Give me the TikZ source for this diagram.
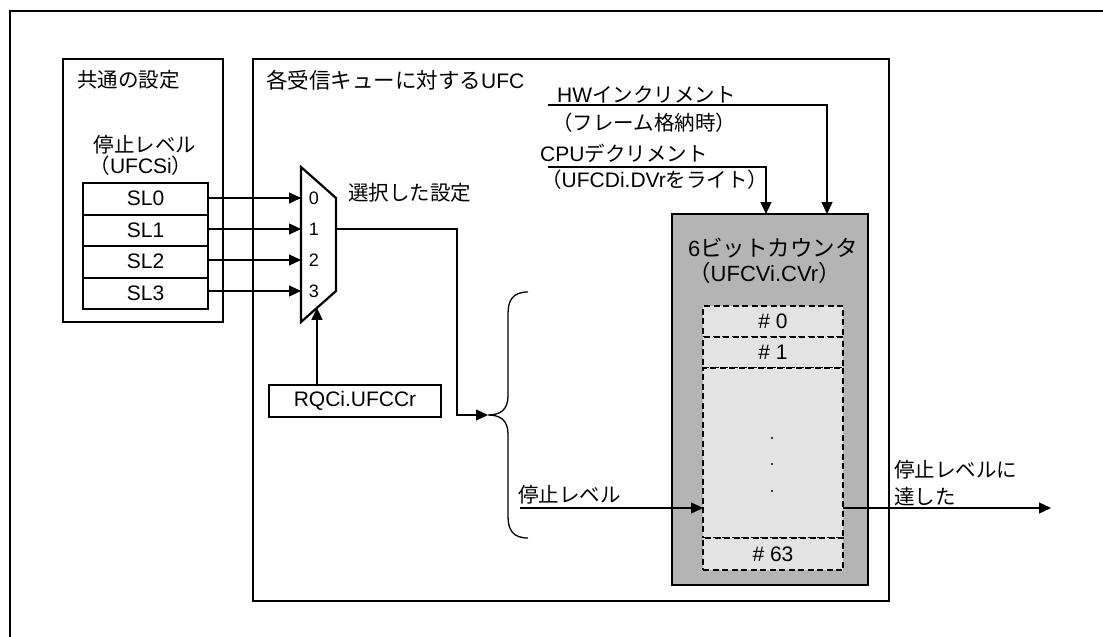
\documentclass[tikz,border=0pt]{standalone}
\usepackage{fontspec}
\setmainfont{Liberation Sans}
\newfontfamily\jpfont{Noto Sans CJK JP}
\newcommand{\jpt}[1]{{\jpfont\fontsize{20.5}{25}\selectfont #1}}
\newcommand{\jptb}[1]{{\jpfont\fontsize{22.5}{27}\selectfont #1}}
\usetikzlibrary{arrows.meta,calc}
\definecolor{cgray}{HTML}{B4B4B4}
\definecolor{clight}{HTML}{E3E3E3}
\begin{document}
\begin{tikzpicture}[x=1pt,y=-1pt,
  boxd/.style={draw, line width=2pt, inner sep=0pt, outer sep=0pt},
  txt/.style={inner sep=0pt, font=\fontsize{21}{25}\selectfont},
  txtb/.style={inner sep=0pt, font=\fontsize{22}{27}\selectfont},
  small/.style={inner sep=0pt, font=\fontsize{18}{22}\selectfont},
  arr/.style={line width=1.2pt, -{Triangle[length=12pt,width=11pt]}},
  ln/.style={line width=1.2pt},
  dcell/.style={draw, line width=2.2pt, dash pattern=on 6pt off 3.5pt, fill=clight, inner sep=0pt, outer sep=0pt, minimum width=140pt, font=\fontsize{21}{25}\selectfont}]
\useasboundingbox (0,0) rectangle (1103,637);
% outer frame (open at right and bottom)
\draw[line width=2.2pt] (10,637) -- (10,11) -- (1103,11);

% common settings box
\node[boxd, minimum width=160pt, minimum height=263pt, anchor=north west] (common) at (63,59) {};
\node[txt, anchor=west] (tcommon) at (77,80) {\jpt{共通の設定}};
\node[txt] (tstop) at (145,145) {\jpt{停止レベル}};
\node[txt] (tufcsi) at (141,166) {\jpt{（}UFCSi\jpt{）}};
\foreach \i/\y in {0/198.75,1/230.25,2/261.75,3/293.25}{
  \node[boxd, minimum width=125pt, minimum height=31.5pt, font=\fontsize{21}{25}\selectfont] (sl\i) at (145.5,\y) {SL\i};
}

% main UFC box
\node[boxd, minimum width=636pt, minimum height=542pt, anchor=north west] (ufc) at (253,59) {};
\node[txt, anchor=west] (tufc) at (266,80) {{\jpfont\fontsize{21.5}{25}\selectfont 各受信キューに対する}UFC};

% multiplexer
\coordinate (mtl) at (301,167);
\coordinate (mtr) at (336,198);
\coordinate (mbr) at (336,291);
\coordinate (mbl) at (301,322);
\draw[line width=2.2pt, line join=miter] (mtl) -- (mtr) -- (mbr) -- (mbl) -- cycle;
\foreach \i/\y in {0/198,1/229,2/260,3/291}{
  \coordinate (min\i) at (301,\y);
  \node[small] (mlab\i) at (314,\y) {\i};
}
\draw[arr] (sl0.east |- min0) -- (min0);
\draw[arr] (sl1.east |- min1) -- (min1);
\draw[arr] (sl2.east |- min2) -- (min2);
\draw[arr] (sl3.east |- min3) -- (min3);
\node[txt, anchor=west] (tsel) at (348,193) {\jpt{選択した設定}};

% selector register
\node[boxd, minimum width=172pt, minimum height=32pt, font=\fontsize{21}{25}\selectfont] (rqc) at (355,401) {RQCi.UFCCr};
\coordinate (mbot) at ($(mbl)!0.457!(mbr)$);
\draw[arr] (mbot |- rqc.north) -- (mbot);

% output of mux to brace
\coordinate (mout) at (336,229);
\coordinate (bend) at (457,229);
\coordinate (btip) at (488,415);
\draw[arr] (mout) -- (bend) |- (btip);

% brace
\draw[line width=1.3pt] (528,292) .. controls (513,292) and (508,300) .. (508,314)
  -- (508,396) .. controls (508,410) and (500,415) .. (btip)
  .. controls (500,415) and (508,420) .. (508,434)
  -- (508,516) .. controls (508,530) and (513,538) .. (528,538);

% counter
\node[boxd, fill=cgray, minimum width=196pt, minimum height=371pt, anchor=north west] (cnt) at (672,214) {};
\node[txtb, anchor=west] (tcnt) at (688,248) {6\jptb{ビットカウンタ}};
\node[txtb, anchor=west] (tcvr) at (688,273) {\jptb{（}UFCVi.CVr\jptb{）}};
\node[dcell, minimum height=31pt, anchor=north west] (c0) at (703,306) {\# 0};
\node[dcell, minimum height=31pt, anchor=north west] (c1) at (703,337) {\# 1};
\node[dcell, minimum height=170pt, anchor=north west] (cm) at (703,368) {};
\node[dcell, minimum height=32pt, anchor=north west] (c63) at (703,538) {\# 63};
\foreach \y in {438,464,491}{ \fill (772,\y) circle (1.1pt); }

% HW increment
\node[txt, anchor=west] (thw) at (557,95) {HW\jpt{インクリメント}};
\node[txt, anchor=west] (thw2) at (552,123) {\jpt{（フレーム格納時）}};
\coordinate (hwst) at (548,105);
\coordinate (hwx) at (827,105);
\draw[arr] (hwst) -- (hwx) -- (hwx |- cnt.north);

% CPU decrement
\node[txt, anchor=west] (tcpu) at (540,153) {CPU\jpt{デクリメント}};
\node[txt, anchor=west] (tcpu2) at (541,180) {\jpt{（}UFCDi.DVr\jpt{をライト）}};
\coordinate (cpust) at (548,167);
\coordinate (cpux) at (766,167);
\draw[arr] (cpust) -- (cpux) -- (cpux |- cnt.north);

% stop level input
\node[txt, anchor=west] (tsl) at (518,495) {\jpt{停止レベル}};
\coordinate (slin) at (520,508);
\draw[arr] (slin) -- (slin -| cm.west);

% reached output
\coordinate (outend) at (1051,508);
\draw[arr] (slin -| cm.east) -- (outend);
\node[txt, anchor=west] (treach1) at (894,470) {\jpt{停止レベルに}};
\node[txt, anchor=west] (treach2) at (894,497) {\jpt{達した}};
\end{tikzpicture}
\end{document}
